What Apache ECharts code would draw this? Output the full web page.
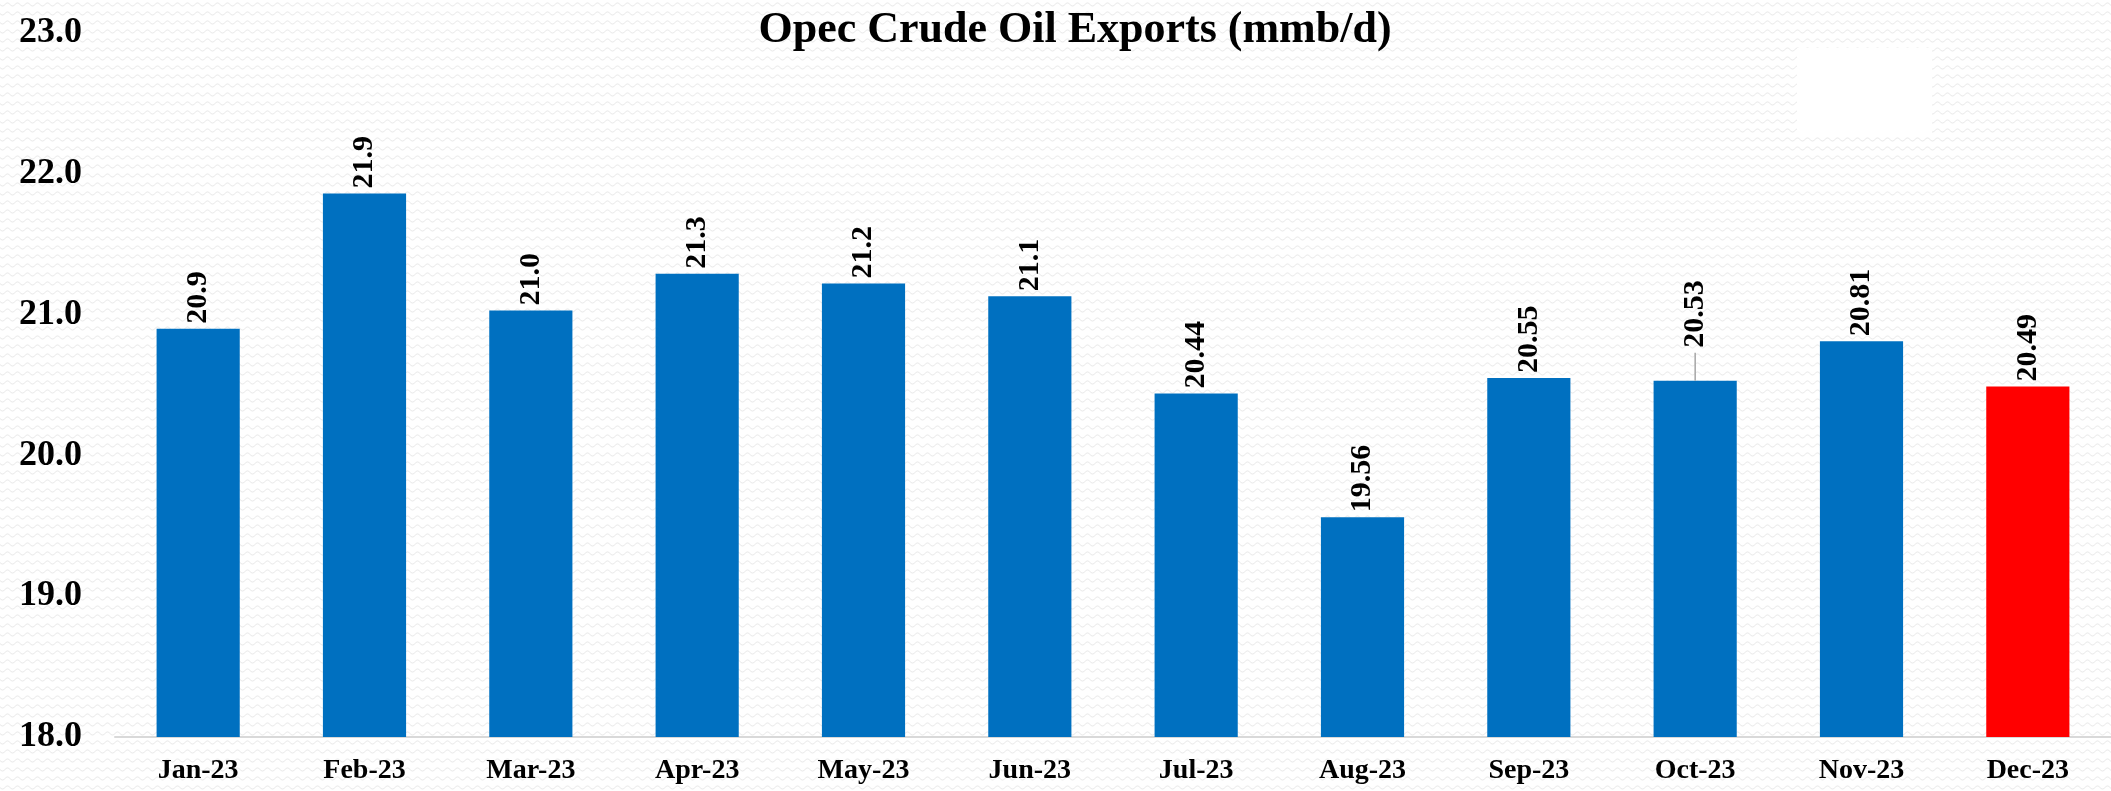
<!DOCTYPE html>
<html>
<head>
<meta charset="utf-8">
<title>Opec Crude Oil Exports</title>
<script src="https://cdn.jsdelivr.net/npm/echarts@6/dist/echarts.min.js"></script>
<style>
    html, body { margin: 0; padding: 0; background: #fff; }
    #chart { width: 2111px; height: 791px; }
</style>
</head>
<body>
<div id="chart"></div>
<script>
var months = ['Jan-23', 'Feb-23', 'Mar-23', 'Apr-23', 'May-23', 'Jun-23', 'Jul-23', 'Aug-23', 'Sep-23', 'Oct-23', 'Nov-23', 'Dec-23'];
var exports = [20.9, 21.86, 21.03, 21.29, 21.22, 21.13, 20.44, 19.56, 20.55, 20.53, 20.81, 20.49];
var valueLabels = ['20.9', '21.9', '21.0', '21.3', '21.2', '21.1', '20.44', '19.56', '20.55', '20.53', '20.81', '20.49'];
var yTicks = [18, 19, 20, 21, 22, 23];
var liftedLabel = 9; // Oct label sits higher, with a leader line

(function(global) {
    var FONT = "'Liberation Serif', 'Times New Roman', serif";
    var BLUE = '#0070C0';
    var RED = '#FF0000';

    // faint wavy paper texture behind the chart
    function makePattern() {
        var c = document.createElement('canvas');
        c.width = 10;
        c.height = 9;
        var ctx = c.getContext('2d');
        ctx.fillStyle = '#ffffff';
        ctx.fillRect(0, 0, 10, 9);
        ctx.strokeStyle = '#e9e9e9';
        ctx.lineWidth = 1;
        ctx.beginPath();
        for (var x = 0; x <= 10; x++) {
            var y = 4.5 + 1.6 * Math.sin(x / 10 * Math.PI * 2);
            if (x === 0) ctx.moveTo(x, y); else ctx.lineTo(x, y);
        }
        ctx.stroke();
        return c;
    }

    function buildData() {
        var last = exports.length - 1;
        return exports.map(function(v, i) {
            var item = { value: v, itemStyle: { color: i === last ? RED : BLUE } };
            if (i === liftedLabel) {
                item.label = { distance: 33 };
            }
            return item;
        });
    }

    var chart = echarts.init(document.getElementById('chart'));
    chart.setOption({
        backgroundColor: { image: makePattern(), repeat: 'repeat' },
        animation: false,
        title: {
            text: 'Opec Crude Oil Exports (mmb/d)',
            left: 1070,
            textAlign: 'center',
            top: 4,
            textStyle: { fontFamily: FONT, fontWeight: 'bold', fontSize: 44, color: '#000' }
        },
        graphic: [{
            type: 'rect',
            left: 1797,
            top: 48,
            shape: { width: 135, height: 89 },
            style: { fill: '#ffffff' },
            silent: true
        }],
        grid: { left: 115, top: 33, width: 2021, height: 704 },
        xAxis: {
            type: 'category',
            data: months,
            axisLine: { lineStyle: { color: '#d9d9d9', width: 2 } },
            axisTick: { show: false },
            axisLabel: { margin: 20, color: '#000', fontFamily: FONT, fontWeight: 'bold', fontSize: 28, interval: 0 }
        },
        yAxis: {
            type: 'value',
            min: yTicks[0],
            max: yTicks[yTicks.length - 1],
            interval: 1,
            axisLine: { show: false },
            axisTick: { show: false },
            splitLine: { show: false },
            axisLabel: {
                margin: 33,
                color: '#000',
                fontFamily: FONT,
                fontWeight: 'bold',
                fontSize: 36,
                formatter: function(v) { return v.toFixed(1); }
            }
        },
        series: [{
            type: 'bar',
            barWidth: '50%',
            data: buildData(),
            label: {
                show: true,
                position: 'top',
                rotate: 90,
                align: 'left',
                verticalAlign: 'middle',
                distance: 5,
                color: '#000',
                fontFamily: FONT,
                fontWeight: 'bold',
                fontSize: 30,
                formatter: function(p) { return valueLabels[p.dataIndex]; }
            }
        }, {
            // leader line from the top of the bar up to its lifted label
            type: 'custom',
            silent: true,
            z: 3,
            data: [[liftedLabel, exports[liftedLabel]]],
            renderItem: function(params, api) {
                var p = api.coord([api.value(0), api.value(1)]);
                return {
                    type: 'line',
                    shape: { x1: p[0], y1: p[1], x2: p[0], y2: p[1] - 28 },
                    style: { stroke: '#a6a6a6', lineWidth: 1.5 }
                };
            }
        }]
    });
})(this);
</script>
</body>
</html>
